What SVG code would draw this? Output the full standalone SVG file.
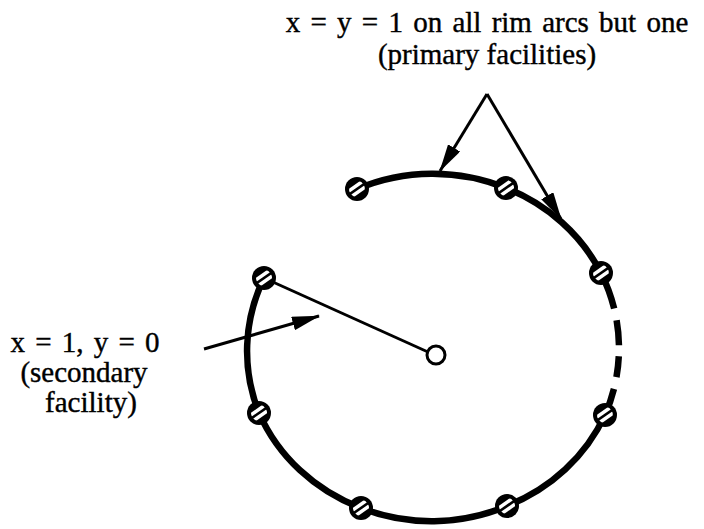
<svg xmlns="http://www.w3.org/2000/svg" xmlns:xlink="http://www.w3.org/1999/xlink" width="704" height="529" viewBox="0 0 704 529">
<style>
  .lbl { font-family: "Liberation Serif", "Times New Roman", serif; font-size: 29px; fill: #000; stroke: #000; stroke-width: 0.4; text-anchor: middle; }
  .eq { word-spacing: 3px; }
  .rim { fill: none; stroke: #000; stroke-width: 6.5; }
  .thin { fill: none; stroke: #000; stroke-width: 3; }
</style>
<defs>
  <clipPath id="inner"><circle r="8"/></clipPath>
  <g id="hatched">
    <circle r="12" fill="#000"/>
    <g clip-path="url(#inner)" transform="rotate(-35)">
      <rect x="-10" y="-4.8" width="20" height="3.5" fill="#fff"/>
      <rect x="-10" y="1.3" width="20" height="3.5" fill="#fff"/>
    </g>
  </g>
  <marker id="ah" markerUnits="userSpaceOnUse" viewBox="0 0 28 14" markerWidth="28" markerHeight="14" refX="27" refY="7" orient="auto">
    <path d="M0,0 L28,7 L0,14 z" fill="#000"/>
  </marker>
</defs>
<rect width="704" height="529" fill="#fff"/>

<g id="connectors">
  <path class="rim" d="M357,189 A185,175 0 0 1 506,188 A185,175 0 0 1 601,273"/>
  <path class="rim" d="M601,273 A185,175 0 0 1 605,415" stroke-dasharray="38 12 25 11 21 12 100"/>
  <path class="rim" d="M605,415 A185,175 0 0 1 507,506 A185,175 0 0 1 361,508 A185,175 0 0 1 259,413 A185,175 0 0 1 264,278"/>
  <line class="thin" x1="264" y1="278" x2="428" y2="352"/>
  <line class="thin" x1="487" y1="94" x2="440" y2="171" marker-end="url(#ah)"/>
  <line class="thin" x1="487" y1="94" x2="561" y2="219" marker-end="url(#ah)"/>
  <line class="thin" x1="204" y1="349" x2="319" y2="316" marker-end="url(#ah)"/>
</g>

<g id="hub"><circle cx="436" cy="355" r="9" fill="#fff" stroke="#000" stroke-width="3"/></g>
<g id="n1" transform="translate(357,189)"><use xlink:href="#hatched"/></g>
<g id="n2" transform="translate(506,188)"><use xlink:href="#hatched"/></g>
<g id="n3" transform="translate(601,273)"><use xlink:href="#hatched"/></g>
<g id="n4" transform="translate(605,415)"><use xlink:href="#hatched"/></g>
<g id="n5" transform="translate(507,506)"><use xlink:href="#hatched"/></g>
<g id="n6" transform="translate(361,508)"><use xlink:href="#hatched"/></g>
<g id="n7" transform="translate(259,413)"><use xlink:href="#hatched"/></g>
<g id="n8" transform="translate(264,278)"><use xlink:href="#hatched"/></g>

<g id="label-primary">
  <text class="lbl eq" x="487" y="32">x = y = 1 on all rim arcs but one</text>
  <text class="lbl" x="487" y="64">(primary facilities)</text>
</g>
<g id="label-secondary">
  <text class="lbl eq" x="85" y="352">x = 1, y = 0</text>
  <text class="lbl" x="84" y="382">(secondary</text>
  <text class="lbl" x="91" y="412">facility)</text>
</g>
</svg>
